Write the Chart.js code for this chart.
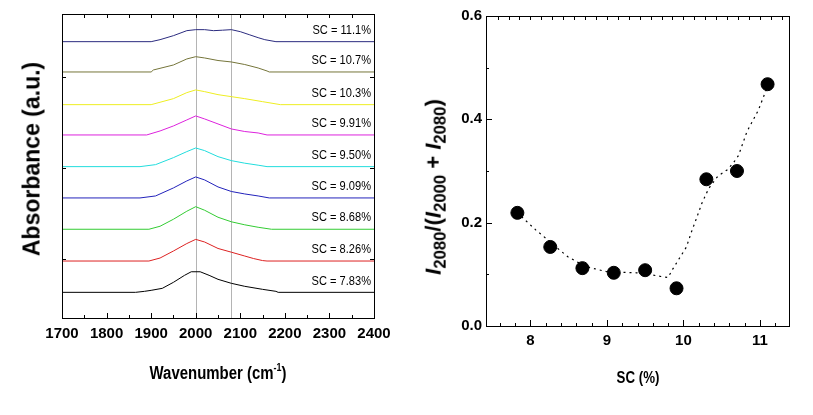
<!DOCTYPE html>
<html lang="en">
<head>
  <meta charset="UTF-8" />
  <title>IR spectra and I2080 ratio vs SC</title>
  <script src="https://cdn.jsdelivr.net/npm/chart.js"></script>
  <style>
    body { margin: 0; background: #fff; }
    #wrap { position: relative; width: 813px; height: 415px; overflow: hidden; }
    canvas { position: absolute; top: 0; }
    .ttl { position: absolute; color: #000; font-weight: bold; white-space: nowrap;
           font-family: 'Liberation Sans', Arial, sans-serif;
           transform: translate(-50%, -50%); line-height: 1; }
    .cond { transform: translate(-50%, -50%) scaleX(0.83); }
    .rot { transform: translate(-50%, -50%) rotate(-90deg); }
    .ttl sup { font-size: 60%; vertical-align: 0.7em; }
    .ttl sub { font-size: 76%; vertical-align: -0.3em; }
  </style>
</head>
<body>
  <div id="wrap">
    <canvas id="spectra" width="400" height="415" style="left:0"></canvas>
    <canvas id="ratio" width="403" height="415" style="left:410px"></canvas>

    <div class="ttl rot" style="left:32px; top:159px; font-size:23px">Absorbance (a.u.)</div>
    <div class="ttl cond" style="left:218px; top:372px; font-size:18px">Wavenumber (cm<sup>-1</sup>)</div>
    <div class="ttl rot" style="left:436px; top:187px; font-size:22px"><i>I</i><sub>2080</sub>/(<i>I</i><sub>2000</sub> + <i>I</i><sub>2080</sub>)</div>
    <div class="ttl cond" style="left:638px; top:378px; font-size:16px">SC (%)</div>
  </div>

  <script>
    // sample silicon contents, shared by both panels
    const scText = ['7.83', '8.26', '8.68', '9.09', '9.50', '9.91', '10.3', '10.7', '11.1'];
    const sc = scText.map(Number);

    // right panel: I2080/(I2000+I2080) per sample
    const ratio = [0.219, 0.153, 0.112, 0.103, 0.108, 0.073, 0.284, 0.300, 0.468];
    // dotted guide curve
    const fitSC    = [7.83, 7.91, 8.07, 8.20, 8.35, 8.49, 8.65, 8.78, 9.00, 9.20, 9.39, 9.55, 9.70, 9.80, 9.86, 9.96, 10.04, 10.10, 10.17, 10.24, 10.33, 10.45, 10.57, 10.65, 10.72, 10.83, 10.98, 11.09];
    const fitRatio = [0.220, 0.208, 0.186, 0.170, 0.151, 0.134, 0.121, 0.113, 0.105, 0.104, 0.103, 0.100, 0.096, 0.094, 0.110, 0.134, 0.153, 0.180, 0.208, 0.237, 0.266, 0.290, 0.302, 0.315, 0.330, 0.376, 0.418, 0.460];

    // left panel: vertical offset of each spectrum (a.u.)
    const baseline = [0.632, 0.976, 1.325, 1.669, 2.013, 2.361, 2.694, 3.053, 3.386];
    // absorbance above baseline, [wavenumber, a.u.]
    const s783  = [[1700,0],[1865,0],[1885,0.011],[1900,0.022],[1925,0.044],[1950,0.110],[1975,0.187],[1990,0.226],[2010,0.226],[2030,0.187],[2050,0.143],[2080,0.099],[2110,0.066],[2150,0.033],[2180,0.011],[2185,0],[2400,0]];
    const s826  = [[1700,0],[1895,0],[1920,0.033],[1950,0.110],[1980,0.192],[2000,0.238],[2020,0.209],[2050,0.138],[2080,0.097],[2110,0.055],[2130,0.027],[2150,0.005],[2160,0],[2400,0]];
    const s868  = [[1700,0],[1895,0],[1920,0.033],[1950,0.110],[1980,0.198],[2000,0.248],[2020,0.209],[2050,0.132],[2080,0.082],[2110,0.049],[2140,0.022],[2170,0],[2400,0]];
    const s909  = [[1700,0],[1875,0],[1910,0.022],[1950,0.110],[1980,0.187],[2000,0.231],[2020,0.198],[2050,0.121],[2080,0.071],[2110,0.044],[2140,0.022],[2165,0],[2400,0]];
    const s950  = [[1700,0],[1875,0],[1910,0.022],[1950,0.099],[1980,0.165],[2000,0.205],[2020,0.176],[2050,0.110],[2080,0.066],[2110,0.038],[2140,0.016],[2160,0],[2400,0]];
    const s991  = [[1700,0],[1890,0],[1920,0.044],[1950,0.099],[1980,0.165],[2000,0.209],[2020,0.176],[2050,0.121],[2080,0.066],[2110,0.038],[2140,0.022],[2160,0],[2400,0]];
    const s1030 = [[1700,0],[1900,0],[1950,0.066],[1980,0.132],[2000,0.162],[2020,0.143],[2050,0.110],[2080,0.088],[2110,0.066],[2150,0.033],[2190,0],[2400,0]];
    const s1070 = [[1700,0],[1900,0],[1905,0.022],[1950,0.077],[1980,0.143],[2000,0.168],[2020,0.154],[2050,0.126],[2080,0.110],[2110,0.082],[2140,0.044],[2160,0.011],[2165,0],[2400,0]];
    const s1110 = [[1700,0],[1900,0],[1920,0.022],[1950,0.066],[1980,0.121],[2000,0.132],[2020,0.132],[2040,0.121],[2060,0.126],[2080,0.132],[2100,0.110],[2120,0.077],[2140,0.044],[2155,0.022],[2180,0],[2400,0]];
    const spectra = [s783, s826, s868, s909, s950, s991, s1030, s1070, s1110];
    const lineColors = ['#000000', '#dd2222', '#33cc33', '#2222bb', '#22dddd', '#dd22dd', '#eeee22', '#75753a', '#2b2b7f'];
    const markLines = [2000, 2080];

    const sans = "'Liberation Sans', Arial, sans-serif";
    const tickFont = { family: sans, size: 15, weight: 'bold' };

    // box frame + inward ticks (Chart.js only draws outward ticks)
    const frameTicks = {
      id: 'frameTicks',
      afterDraw(chart, args, o) {
        const { ctx, chartArea: a, scales: { x, y } } = chart;
        ctx.save();
        ctx.strokeStyle = '#000';
        ctx.lineWidth = 1;
        ctx.beginPath();
        x.ticks.forEach(t => {
          const px = Math.round(x.getPixelForValue(t.value)) + 0.5;
          const len = t.label ? o.major : o.minor;
          ctx.moveTo(px, a.bottom); ctx.lineTo(px, a.bottom - len);
        });
        (o.topValues || x.ticks.map(t => t.value)).forEach(v => {
          const px = Math.round(x.getPixelForValue(v)) + 0.5;
          ctx.moveTo(px, a.top); ctx.lineTo(px, a.top + o.top);
        });
        y.ticks.forEach(t => {
          const py = Math.round(y.getPixelForValue(t.value)) + 0.5;
          const len = o.yLen || (t.label ? o.major : o.minor);
          ctx.moveTo(a.left, py); ctx.lineTo(a.left + len, py);
          if (o.right) { ctx.moveTo(a.right, py); ctx.lineTo(a.right - len, py); }
        });
        ctx.stroke();
        ctx.strokeRect(Math.round(a.left) + 0.5, Math.round(a.top) + 0.5,
                       Math.round(a.right) - Math.round(a.left), Math.round(a.bottom) - Math.round(a.top));
        ctx.restore();
      }
    };

    // grey markers at 2000 and 2080 cm-1, behind the spectra
    const refLines = {
      id: 'refLines',
      beforeDatasetsDraw(chart) {
        const { ctx, chartArea: a, scales: { x } } = chart;
        ctx.save();
        ctx.strokeStyle = '#b4b4b4';
        ctx.lineWidth = 1;
        markLines.forEach(v => {
          const px = Math.round(x.getPixelForValue(v)) + 0.5;
          ctx.beginPath(); ctx.moveTo(px, a.top); ctx.lineTo(px, a.bottom); ctx.stroke();
        });
        ctx.restore();
      }
    };

    // "SC = x%" tag above each spectrum, squeezed like the original narrow face
    const scTags = {
      id: 'scTags',
      afterDatasetsDraw(chart) {
        const { ctx, chartArea: a, scales: { y } } = chart;
        ctx.save();
        ctx.font = "13.5px " + sans;
        ctx.fillStyle = '#000';
        ctx.textAlign = 'right';
        ctx.textBaseline = 'middle';
        scText.forEach((s, i) => {
          ctx.save();
          ctx.translate(a.right - 3, y.getPixelForValue(baseline[i]) - 11.5);
          ctx.scale(0.82, 1);
          ctx.fillText('SC = ' + s + '%', 0, 0);
          ctx.restore();
        });
        ctx.restore();
      }
    };

    const isWhole = v => Math.abs(v - Math.round(v)) < 1e-6;

    new Chart(document.getElementById('spectra'), {
      type: 'line',
      data: {
        datasets: spectra.map((s, i) => ({
          data: s.map(p => ({ x: p[0], y: baseline[i] + p[1] })),
          borderColor: lineColors[i],
          borderWidth: 1,
          pointRadius: 0,
          tension: 0
        }))
      },
      options: {
        responsive: false,
        animation: false,
        layout: { padding: { top: 14, right: 26, left: 0, bottom: 0 } },
        plugins: {
          legend: { display: false },
          tooltip: { enabled: false },
          frameTicks: { major: 5, minor: 3, top: 4, yLen: 4, right: true }
        },
        scales: {
          x: {
            type: 'linear', min: 1700, max: 2400,
            grid: { display: false, drawTicks: false }, border: { display: false },
            ticks: {
              stepSize: 50, padding: 7, color: '#000', font: tickFont, maxRotation: 0,
              autoSkip: false, includeBounds: false,
              callback: v => (v % 100 === 0 ? String(v) : '')
            },
            afterFit: s => { s.height = 97; }
          },
          y: {
            min: 0.35, max: 3.69,
            grid: { display: false, drawTicks: false }, border: { display: false },
            ticks: { stepSize: 1, display: false, includeBounds: false },
            afterFit: s => { s.width = 62; }
          }
        }
      },
      plugins: [refLines, scTags, frameTicks]
    });

    const topTicks = [];
    for (let k = -3; 8 + k / 7 < 11.38; k++) topTicks.push(8 + k / 7);

    new Chart(document.getElementById('ratio'), {
      type: 'scatter',
      data: {
        datasets: [
          {
            data: sc.map((v, i) => ({ x: v, y: ratio[i] })),
            backgroundColor: '#000', borderColor: '#000',
            pointRadius: 6.5, pointStyle: 'circle', showLine: false
          },
          {
            data: fitSC.map((v, i) => ({ x: v, y: fitRatio[i] })),
            showLine: true, borderColor: '#000', borderWidth: 1.2,
            borderDash: [2, 4], pointRadius: 0, tension: 0
          }
        ]
      },
      options: {
        responsive: false,
        animation: false,
        layout: { padding: { top: 16, right: 24, left: 0, bottom: 0 } },
        plugins: {
          legend: { display: false },
          tooltip: { enabled: false },
          frameTicks: { major: 6, minor: 3, top: 4, topValues: topTicks }
        },
        scales: {
          x: {
            type: 'linear', min: 7.42, max: 11.38,
            grid: { display: false, drawTicks: false }, border: { display: false },
            ticks: {
              stepSize: 0.2, padding: 6, color: '#000', font: tickFont, maxRotation: 0,
              autoSkip: false, includeBounds: false,
              callback: v => (isWhole(v) ? String(Math.round(v)) : '')
            },
            afterFit: s => { s.height = 89; }
          },
          y: {
            min: 0, max: 0.6,
            grid: { display: false, drawTicks: false }, border: { display: false },
            ticks: {
              stepSize: 0.1, padding: 4, color: '#000', font: tickFont, autoSkip: false,
              callback: v => (isWhole(v * 5) ? v.toFixed(1) : '')
            },
            afterFit: s => { s.width = 76; }
          }
        }
      },
      plugins: [frameTicks]
    });
  </script>
</body>
</html>
